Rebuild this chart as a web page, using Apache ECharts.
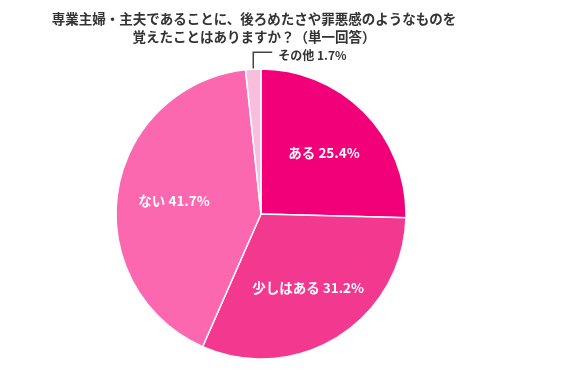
<!DOCTYPE html>
<html><head><meta charset="utf-8">
<script src="https://cdn.jsdelivr.net/npm/echarts@6/dist/echarts.min.js"></script>
<style>html,body{margin:0;padding:0;background:#fff}#c{width:563px;height:372px}</style>
</head><body><div id="c"></div>
<script>
const titleLines = ['専業主婦・主夫であることに、後ろめたさや罪悪感のようなものを', '覚えたことはありますか？（単一回答）'];
const categories = ['ある', '少しはある', 'ない', 'その他'];
const values = [25.4, 31.2, 41.7, 1.7];
const colors = ['#F2007A', '#F2398F', '#FB68AF', '#F7BEDD'];

const font = '"Noto Sans CJK JP", "Noto Sans", sans-serif';
const data = categories.map((n, i) => ({ name: n, value: values[i], itemStyle: { color: colors[i] } }));

const chart = echarts.init(document.getElementById('c'), null, { renderer: 'canvas' });
chart.setOption({
  animation: false,
  backgroundColor: '#fff',
  title: {
    text: titleLines.join('\n'),
    left: 249, top: 5, textAlign: 'center',
    textStyle: { fontFamily: font, fontSize: 13.5, fontWeight: 'bold', color: '#333', lineHeight: 18 }
  },
  series: [
    {
      type: 'pie', center: [261, 214], radius: [0, 145],
      startAngle: 90, clockwise: true, silent: true,
      itemStyle: { borderColor: '#fff', borderWidth: 1.5 },
      data: data.map((d, i) => Object.assign({}, d, {
        label: i === 3 ? { show: true, position: 'outside', formatter: '{b} {c}%', color: '#333', fontFamily: font, fontSize: 12, fontWeight: 'bold' } : { show: false },
        labelLine: i === 3 ? { show: true, lineStyle: { color: '#444', width: 1.5 } } : { show: false }
      })),
      labelLayout: function (p) {
        if (p.dataIndex !== 3 || !p.labelLinePoints) return {};
        const s = p.labelLinePoints[0];
        const x0 = s[0], y0 = s[1];
        return {
          x: x0 + 25, y: y0 - 14, align: 'left', verticalAlign: 'middle',
          labelLinePoints: [[x0, y0 + 5], [x0, y0 - 17], [x0 + 19, y0 - 17]]
        };
      }
    },
    {
      type: 'pie', center: [261, 214], radius: [0, 170],
      startAngle: 90, clockwise: true, silent: true,
      itemStyle: { color: 'rgba(0,0,0,0)' },
      label: { show: true, position: 'inside', formatter: '{b} {c}%', color: '#fff', fontFamily: font, fontSize: 13.5, fontWeight: 'bold' },
      labelLine: { show: false },
      data: data.map((d, i) => ({ name: d.name, value: d.value, label: { show: i !== 3 } }))
    }
  ]
});
</script></body></html>
